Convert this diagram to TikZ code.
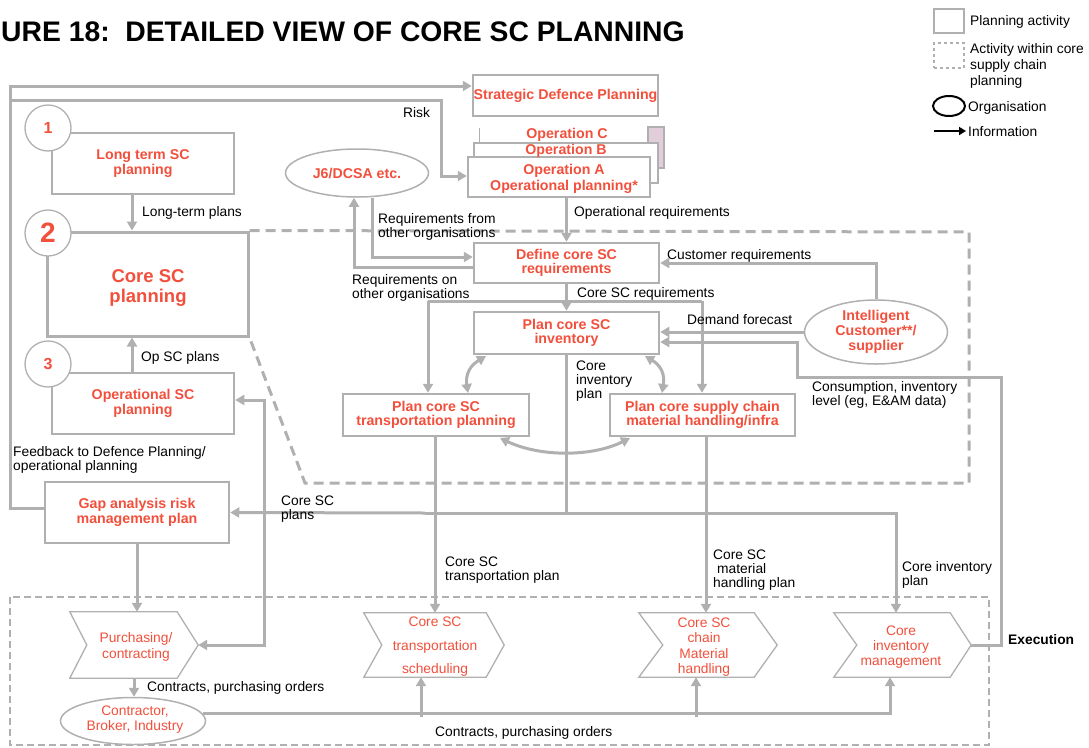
\documentclass[tikz,border=0pt]{standalone}
\usepackage{fontspec}
\setmainfont{Liberation Sans}
\usetikzlibrary{arrows.meta,shapes.geometric}
\definecolor{lg}{RGB}{176,176,176}
\definecolor{rd}{RGB}{242,80,60}
\definecolor{pk}{RGB}{226,206,218}
\newcommand\mychev[3]{\draw[chev] (#1.north west) -- ([xshift=-#2pt]#1.north east) -- (#1.east) -- ([xshift=-#2pt]#1.south east) -- (#1.south west) -- ([xshift=#3pt]#1.west) -- cycle;}
\begin{document}
\begin{tikzpicture}[x=1pt,y=-1pt,
  ln/.style={draw=lg, line width=3pt},
  arr/.style={ln, -{Triangle[length=9pt,width=10pt]}},
  darr/.style={ln, {Triangle[length=9pt,width=10pt]}-{Triangle[length=9pt,width=10pt]}},
  box/.style={draw=lg, line width=2.5pt, fill=white, text=rd, font=\bfseries\fontsize{14.2}{14.5}\selectfont, align=center, inner sep=0pt},
  btext/.style={text=rd, font=\bfseries\fontsize{14.2}{15}\selectfont, align=center, inner sep=0pt},
  org/.style={ellipse, draw=lg, line width=1.5pt, fill=white, text=rd, font=\bfseries\fontsize{14.2}{15}\selectfont, align=center, inner sep=0pt},
  num/.style={circle, draw=lg, line width=1.3pt, fill=white, text=rd, inner sep=0pt, minimum size=46pt},
  lbl/.style={font=\fontsize{13.8}{14}\selectfont, align=left, inner sep=0pt, anchor=west, text=black},
  chev/.style={draw=lg, line width=1.3pt, fill=white},
  cnode/.style={inner sep=0pt},
  ctext/.style={text=rd, font=\fontsize{13.8}{15.5}\selectfont, align=center, inner sep=0pt},
  dreg/.style={draw=lg, line width=3pt, dash pattern=on 10pt off 6pt}
]
\useasboundingbox (0,0) rectangle (1089,747);

% title
\node[anchor=base west, inner sep=0pt, font=\bfseries\fontsize{28.3}{28}\selectfont] (title) at (1,41) {URE 18:\ \ DETAILED VIEW OF CORE SC PLANNING};

% legend
\node[draw=lg, line width=2pt, minimum width=30pt, minimum height=24pt] (lgbox) at (949,21) {};
\node[lbl] (lgboxt) at (970,22) {Planning activity};
\node[draw=lg, line width=1.2pt, dashed, minimum width=30pt, minimum height=25pt] (lgdash) at (949,55.5) {};
\node[lbl, font=\fontsize{13.8}{16}\selectfont] (lgdasht) at (970,66) {Activity within core\\supply chain\\planning};
\node[ellipse, draw=black, line width=2pt, minimum width=32pt, minimum height=20pt] (lgorg) at (949,106) {};
\node[lbl] (lgorgt) at (968,108) {Organisation};
\coordinate (lgaa) at (934,131);
\coordinate (lgab) at (966,131);
\draw[black, line width=2.5pt, -{Triangle[length=7pt,width=8pt]}] (lgaa) -- (lgab);
\node[lbl] (lgat) at (968,132) {Information};

% dashed region (execution)
\draw[lg, line width=2pt, dash pattern=on 7pt off 4pt] (10,597) rectangle (989,745);

% boxes
\node[box, minimum width=185pt, minimum height=41pt] (sdp) at (565.5,95.5) {Strategic Defence Planning};
\draw[lg, line width=1.2pt, fill=pk] (648,127) rectangle (664,168);
\draw[lg, line width=1pt] (479,128) -- (479,143);
\node[btext] (opC) at (567,135) {Operation C};
\node[box, minimum width=184pt, minimum height=40pt] (opB) at (566,163) {};
\node[box, minimum width=182pt, minimum height=40pt] (opA) at (559,177) {};
\node[btext, font=\bfseries\fontsize{14.2}{16}\selectfont] (opAt) at (564,179) {Operation A\\Operational planning*};
\node[btext] (opBt) at (566,151) {Operation B};

\node[box, minimum width=182pt, minimum height=61pt] (lt) at (143,163.5) {Long term SC\\planning};
\node[box, line width=3pt, minimum width=201pt, minimum height=104pt] (core) at (147.5,284) {};
\node[btext, font=\bfseries\fontsize{18.5}{20.5}\selectfont] (coret) at (148,288) {Core SC\\planning};
\node[box, minimum width=182pt, minimum height=61pt] (opsc) at (143,403.5) {Operational SC\\planning};
\node[box, minimum width=184pt, minimum height=61pt] (gap) at (137,512.5) {Gap analysis risk\\management plan};

\draw[dreg] (core.north east) -- (969,232) -- (969,483) -- (305,483) -- (core.south east);

\node[box, minimum width=185pt, minimum height=40pt] (def) at (566.5,263) {Define core SC\\requirements};
\node[box, minimum width=185pt, minimum height=42pt] (inv) at (566.5,333) {Plan core SC\\inventory};
\node[box, minimum width=186pt, minimum height=42pt] (tr) at (436,415) {Plan core SC\\transportation planning};
\node[box, minimum width=185pt, minimum height=42pt] (mh) at (702.5,415) {Plan core supply chain\\material handling/infra};

\node[org, minimum width=143pt, minimum height=48pt] (j6) at (357,173) {J6/DCSA etc.};
\node[org, minimum width=143pt, minimum height=64pt] (ic) at (876,332) {Intelligent\\Customer**/\\supplier};
\node[org, minimum width=145pt, minimum height=47pt] (cbi) at (133,721) {};
\node[ctext, font=\fontsize{13.8}{15}\selectfont] (cbit) at (135,720) {Contractor,\\Broker, Industry};

% number circles
\node[num, font=\bfseries\fontsize{16}{16}\selectfont] (n1) at (48,128) {1};
\node[num, font=\bfseries\fontsize{28}{28}\selectfont] (n2) at (48,233) {2};
\node[num, font=\bfseries\fontsize{16}{16}\selectfont] (n3) at (48,364) {3};

% chevrons
\node[cnode, minimum width=128pt, minimum height=66pt] (pur) at (134,645) {};
\mychev{pur}{21}{17}
\node[ctext] (purt) at (136,647) {Purchasing/\\contracting};
\node[cnode, minimum width=140pt, minimum height=64pt] (trs) at (434,645) {};
\mychev{trs}{18}{18}
\node[ctext, font=\fontsize{13.8}{23.5}\selectfont] (trst) at (435,647) {Core SC\\transportation\\scheduling};
\node[cnode, minimum width=138pt, minimum height=64pt] (mhs) at (708,645) {};
\mychev{mhs}{23}{24}
\node[ctext] (mhst) at (704,647) {Core SC\\chain\\Material\\handling};
\node[cnode, minimum width=137pt, minimum height=64pt] (invm) at (902.5,645) {};
\mychev{invm}{21}{23}
\node[ctext, font=\fontsize{13.8}{15}\selectfont] (invmt) at (901,647) {Core\\inventory\\management};

% connectors
\draw[arr] ([yshift=4.5pt]gap.west) -- (10,508) -- (10,86) -- ([yshift=9.5pt]sdp.west);
\draw[arr] (10,100) -- (441,100) -- (441,176) -- ([yshift=1pt]opA.west);
\draw[arr] ([xshift=-11pt]lt.south) -- ([xshift=-15.5pt]core.north);
\draw[arr] ([xshift=-11pt]opsc.north) -- ([xshift=-15.5pt]core.south);
\draw[darr] ([yshift=3.5pt]opsc.east) -| (264,645) -- (pur.east);
\draw[ln] (inv.south) -- (566.5,513);
\draw[arr] (425,513) -- (gap.east);
\draw[arr] (425,513) -| ([xshift=-6.5pt]invm.north);
\draw[arr] ([xshift=-1pt]tr.south) -- ([xshift=1pt]trs.north);
\draw[arr] ([xshift=3.5pt]mh.south) -- ([xshift=-2pt]mhs.north);
\draw[arr] (gap.south) -- ([xshift=3pt]pur.north);
\draw[arr] (pur.south) -- (pur.south |- cbi.north);
\draw[arr] (cbi.6) -| ([xshift=-12.5pt]invm.south);
\draw[arr] (421,717) -- ([xshift=-13pt]trs.south);
\draw[arr] (696,717) -- ([xshift=-12pt]mhs.south);
\draw[arr] (invm.east) -- (1001,645) -- (1001,377) -- (797,377) -- (797,342) -- ([yshift=-9pt]inv.east);
\draw[arr] (ic.west) -- (ic.west -| inv.east);
\draw[arr] (ic.north) |- (def.east);
\draw[arr] (opA.south -| def.north) -- (def.north);
\draw[arr] (def.south) -- (inv.north);
\draw[ln] (428,301) -- (702,301);
\draw[arr] (428,301) -- ([xshift=-8pt]tr.north);
\draw[arr] (702,301) -- ([xshift=-0.5pt]mh.north);
\draw[arr] ([xshift=15pt]j6.south) |- ([yshift=6pt]def.west);
\draw[arr] ([yshift=-4pt]def.west) -| ([xshift=-3pt]j6.south);
\draw[darr] (486,356) .. controls (466,368) and (466,380) .. (468,393);
\draw[darr] (645,356) .. controls (665,368) and (664,380) .. (662,393);
\draw[darr] (500,438) .. controls (540,457) and (592,457) .. (630,438);

% labels
\node[lbl] (l1) at (142,213) {Long-term plans};
\node[lbl] (l2) at (403,113) {Risk};
\node[lbl] (l3) at (378,227) {Requirements from\\other organisations};
\node[lbl] (l4) at (574,213) {Operational requirements};
\node[lbl] (l5) at (352,288) {Requirements on\\other organisations};
\node[lbl] (l6) at (667,256) {Customer requirements};
\node[lbl] (l7) at (577,294) {Core SC requirements};
\node[lbl] (l8) at (687,320) {Demand forecast};
\node[lbl] (l9) at (576,381) {Core\\inventory\\plan};
\node[lbl] (l10) at (812,395) {Consumption, inventory\\level (eg, E\&AM data)};
\node[lbl] (l11) at (141,358) {Op SC plans};
\node[lbl] (l12) at (13,460) {Feedback to Defence Planning/\\operational planning};
\node[lbl] (l13) at (281,509) {Core SC\\plans};
\node[lbl] (l14) at (445,570) {Core SC\\transportation plan};
\node[lbl] (l15) at (713,570) {Core SC\\\hspace{4pt}material\\handling plan};
\node[lbl] (l16) at (902,575) {Core inventory\\plan};
\node[lbl, font=\bfseries\fontsize{13.8}{14}\selectfont] (l17) at (1008,640) {Execution};
\node[lbl] (l18) at (147,688) {Contracts, purchasing orders};
\node[lbl] (l19) at (435,733) {Contracts, purchasing orders};
\end{tikzpicture}
\end{document}
